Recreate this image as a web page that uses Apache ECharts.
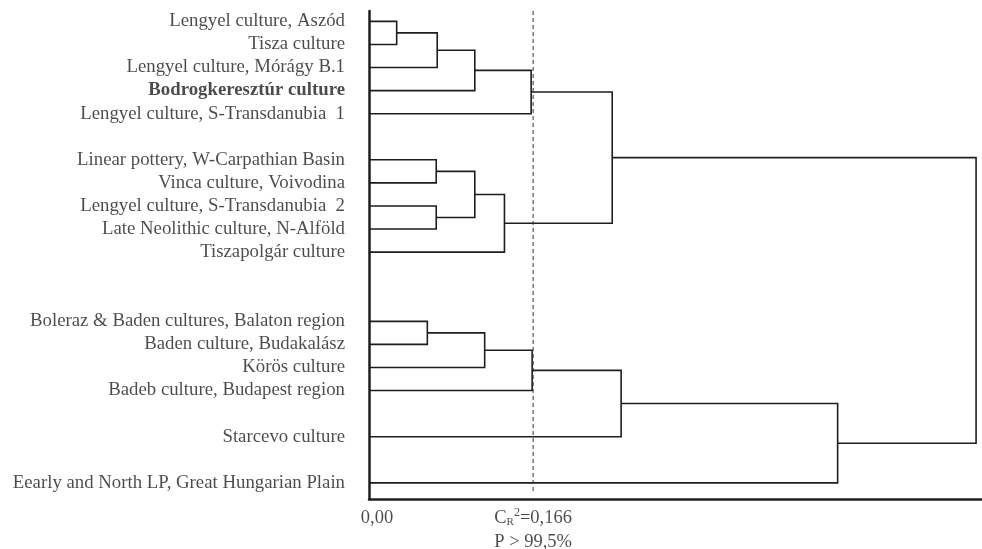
<!DOCTYPE html>
<html><head><meta charset="utf-8">
<script src="https://cdn.jsdelivr.net/npm/echarts@6/dist/echarts.min.js"></script>
<style>html,body{margin:0;padding:0;background:#fff}#c{width:982px;height:549px}</style>
</head><body><div id="c"></div>
<script>
// ---- data ----
const leafNames = [
  'Lengyel culture, Aszód',
  'Tisza culture',
  'Lengyel culture, Mórágy B.1',
  'Bodrogkeresztúr culture',
  'Lengyel culture, S-Transdanubia  1',
  'Linear pottery, W-Carpathian Basin',
  'Vinca culture, Voivodina',
  'Lengyel culture, S-Transdanubia  2',
  'Late Neolithic culture, N-Alföld',
  'Tiszapolgár culture',
  'Boleraz & Baden cultures, Balaton region',
  'Baden culture, Budakalász',
  'Körös culture',
  'Badeb culture, Budapest region',
  'Starcevo culture',
  'Eearly and North LP, Great Hungarian Plain'
];
const leafRows = [0, 1, 2, 3, 4, 6, 7, 8, 9, 10, 13, 14, 15, 16, 18, 20];
const boldLeaves = ['Bodrogkeresztúr culture'];
// merge i creates node 16+i
const mergeLeft   = [0, 16, 17, 18, 5, 7, 20, 22, 19, 10, 25, 26, 27, 28, 24];
const mergeRight  = [1, 2, 3, 4, 6, 8, 21, 9, 23, 11, 12, 13, 14, 15, 29];
const mergeHeight = [0.028, 0.069, 0.107, 0.164, 0.068, 0.068, 0.107, 0.137, 0.246, 0.059, 0.117, 0.165, 0.255, 0.474, 0.614];
const thresholdValue = 0.166;
const originLabel = '0,00';
const thresholdText = ['C', 'R', '2', '=0,166'];
const significanceLabel = 'P > 99,5%';

// ---- build ----
const nodeX = leafRows.map(() => 0);
const nodeY = leafRows.slice();
const links = [];
mergeLeft.forEach((a, i) => {
  const b = mergeRight[i], h = mergeHeight[i];
  links.push([nodeX[a], nodeY[a], nodeX[b], nodeY[b], h]);
  nodeX.push(h);
  nodeY.push((nodeY[a] + nodeY[b]) / 2);
});

const FONT = "'Liberation Serif', 'Times New Roman', serif";
const INK = '#1e1e1e';
const yMin = -0.45, yMax = 20.7, dashEnd = 20.45;

const chart = echarts.init(document.getElementById('c'), null, {renderer: 'canvas'});
chart.setOption({
  animation: false,
  backgroundColor: '#fff',
  grid: {left: 369, right: 0, top: 11, bottom: 50},
  xAxis: {
    type: 'value', min: 0, max: 0.62,
    axisLine: {show: true, onZero: false, lineStyle: {color: INK, width: 2.5}},
    axisTick: {show: false}, axisLabel: {show: false}, splitLine: {show: false}
  },
  yAxis: {
    type: 'value', inverse: true, min: yMin, max: yMax,
    axisLine: {show: true, onZero: false, lineStyle: {color: INK, width: 2.5}},
    axisTick: {show: false}, axisLabel: {show: false}, splitLine: {show: false}
  },
  series: [
    {
      type: 'line',
      data: [[thresholdValue, yMin], [thresholdValue, dashEnd]],
      symbol: 'none', silent: true,
      lineStyle: {color: '#333', type: [4, 3], width: 1}
    },
    {
      type: 'custom',
      data: links,
      encode: {x: [0, 2, 4], y: [1, 3]},
      renderItem: function (params, api) {
        const a = api.coord([api.value(0), api.value(1)]);
        const aj = api.coord([api.value(4), api.value(1)]);
        const bj = api.coord([api.value(4), api.value(3)]);
        const b = api.coord([api.value(2), api.value(3)]);
        return {
          type: 'polyline',
          shape: {points: [a, aj, bj, b]},
          style: {stroke: INK, lineWidth: 1.6, fill: null}
        };
      }
    },
    {
      type: 'scatter',
      symbolSize: 0,
      data: leafNames.map((n, i) => ({
        value: [0, leafRows[i]], name: n,
        label: {fontWeight: boldLeaves.includes(n) ? 'bold' : 'normal'}
      })),
      label: {
        show: true, position: 'left', distance: 24, formatter: '{b}',
        fontFamily: FONT, fontSize: 18.8, color: INK
      }
    },
    {
      type: 'scatter',
      symbolSize: 0,
      data: [
        {value: [0, yMax], label: {formatter: originLabel, offset: [8, 0]}},
        {value: [thresholdValue, yMax], label: {
          formatter: '{c|' + thresholdText[0] + '}{sub|' + thresholdText[1] + '}{sup|' + thresholdText[2] + '}{c|' + thresholdText[3] + '}\n{c|' + significanceLabel + '}',
          align: 'center'
        }}
      ],
      label: {
        show: true, position: 'bottom', distance: 7,
        fontFamily: FONT, fontSize: 18.5, color: INK, lineHeight: 24,
        rich: {
          c: {fontFamily: FONT, fontSize: 18.5, color: INK, lineHeight: 24},
          sub: {fontFamily: FONT, fontSize: 11, color: INK, verticalAlign: 'bottom', lineHeight: 24, padding: [0, 0, 2, 0]},
          sup: {fontFamily: FONT, fontSize: 12, color: INK, verticalAlign: 'top', lineHeight: 24, padding: [1, 0, 0, 0]}
        }
      }
    }
  ]
});
</script>
</body></html>
